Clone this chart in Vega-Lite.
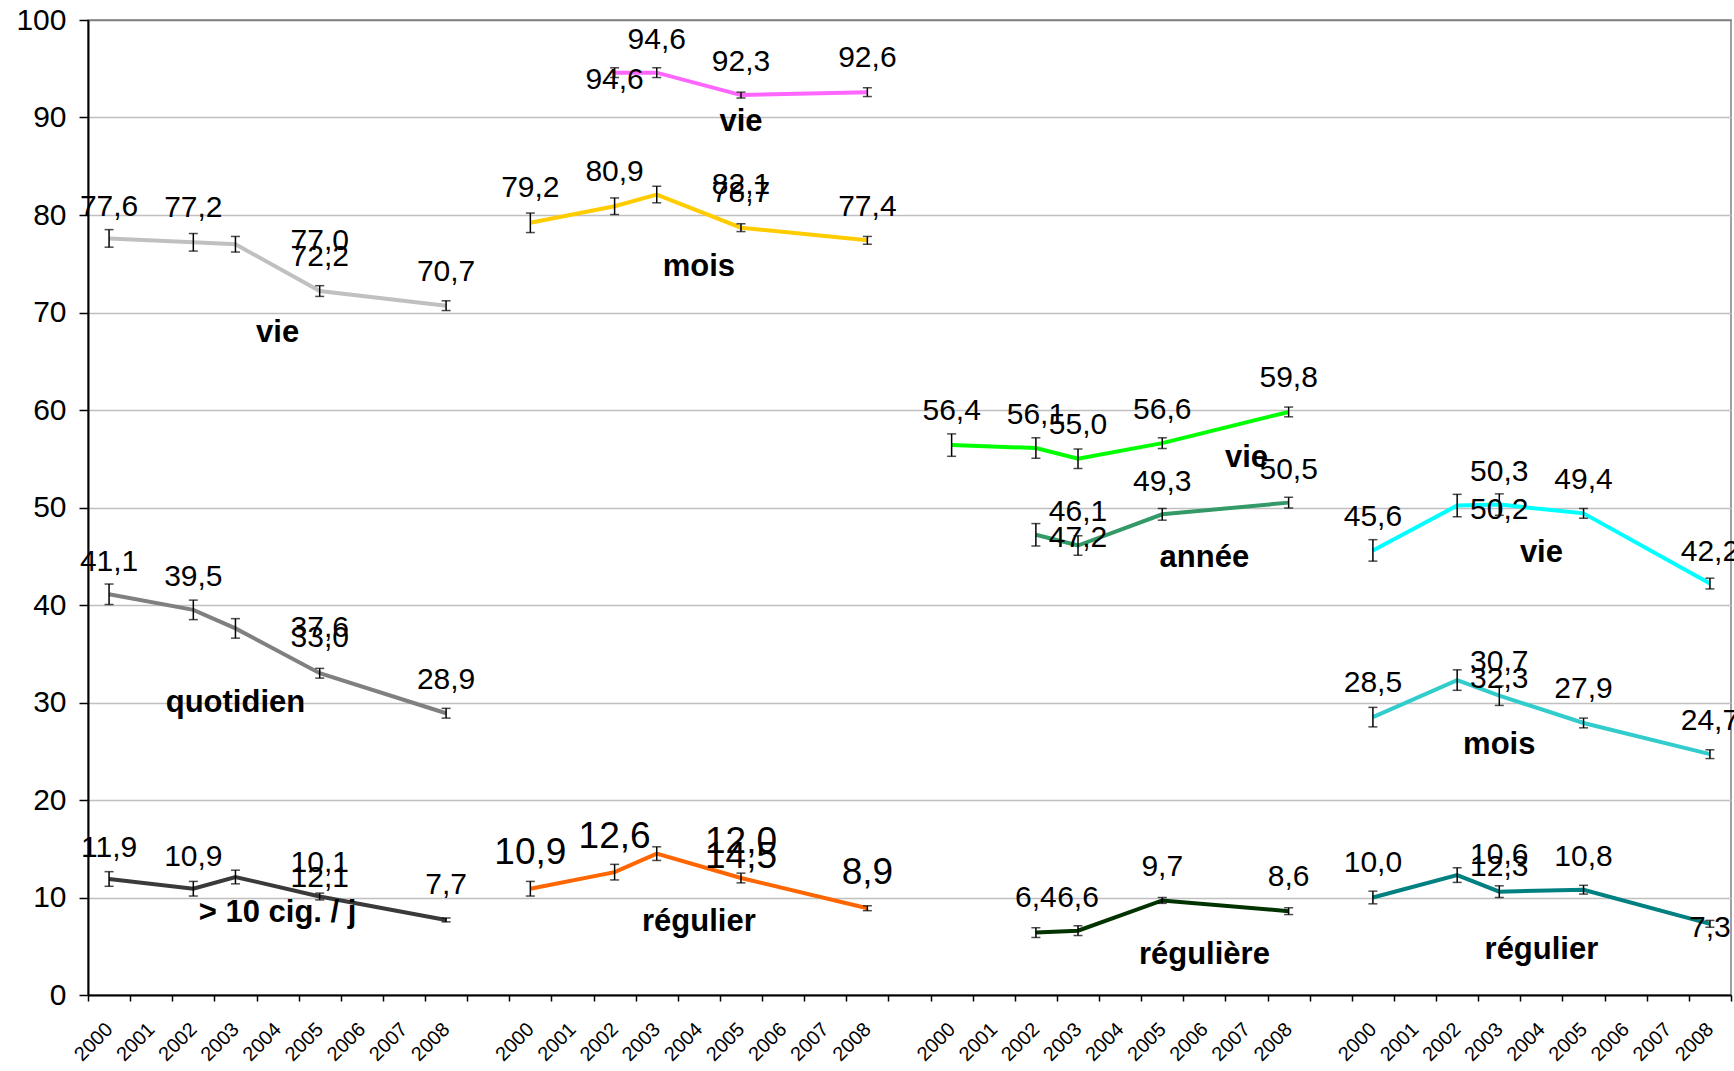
{
  "$schema": "https://vega.github.io/schema/vega-lite/v6.json",
  "width": 1643,
  "height": 975,
  "autosize": {"type": "none"},
  "padding": {"left": 88, "top": 20, "right": 3, "bottom": 76},
  "config": {
    "font": "Liberation Sans",
    "view": {"stroke": "#808080", "strokeWidth": 1.5}
  },
  "datasets": {
    "pts": [
      {"s": "A1", "c": "A2000", "v": 77.6, "e": 0.9},
      {"s": "A1", "c": "A2002", "v": 77.2, "e": 0.9},
      {"s": "A1", "c": "A2003", "v": 77.0, "e": 0.8},
      {"s": "A1", "c": "A2005", "v": 72.2, "e": 0.55},
      {"s": "A1", "c": "A2008", "v": 70.7, "e": 0.5},
      {"s": "A2", "c": "A2000", "v": 41.1, "e": 1.05},
      {"s": "A2", "c": "A2002", "v": 39.5, "e": 1.0},
      {"s": "A2", "c": "A2003", "v": 37.6, "e": 1.0},
      {"s": "A2", "c": "A2005", "v": 33.0, "e": 0.5},
      {"s": "A2", "c": "A2008", "v": 28.9, "e": 0.5},
      {"s": "A3", "c": "A2000", "v": 11.9, "e": 0.75},
      {"s": "A3", "c": "A2002", "v": 10.9, "e": 0.75},
      {"s": "A3", "c": "A2003", "v": 12.1, "e": 0.7},
      {"s": "A3", "c": "A2005", "v": 10.1, "e": 0.35},
      {"s": "A3", "c": "A2008", "v": 7.7, "e": 0.2},
      {"s": "B1", "c": "B2002", "v": 94.6, "e": 0.5},
      {"s": "B1", "c": "B2003", "v": 94.6, "e": 0.5},
      {"s": "B1", "c": "B2005", "v": 92.3, "e": 0.3},
      {"s": "B1", "c": "B2008", "v": 92.6, "e": 0.45},
      {"s": "B2", "c": "B2000", "v": 79.2, "e": 1.0},
      {"s": "B2", "c": "B2002", "v": 80.9, "e": 0.85},
      {"s": "B2", "c": "B2003", "v": 82.1, "e": 0.85},
      {"s": "B2", "c": "B2005", "v": 78.7, "e": 0.4},
      {"s": "B2", "c": "B2008", "v": 77.4, "e": 0.4},
      {"s": "B3", "c": "B2000", "v": 10.9, "e": 0.75},
      {"s": "B3", "c": "B2002", "v": 12.6, "e": 0.8},
      {"s": "B3", "c": "B2003", "v": 14.5, "e": 0.7},
      {"s": "B3", "c": "B2005", "v": 12.0, "e": 0.5},
      {"s": "B3", "c": "B2008", "v": 8.9, "e": 0.25},
      {"s": "C1", "c": "C2000", "v": 56.4, "e": 1.15},
      {"s": "C1", "c": "C2002", "v": 56.1, "e": 1.05},
      {"s": "C1", "c": "C2003", "v": 55.0, "e": 1.0},
      {"s": "C1", "c": "C2005", "v": 56.6, "e": 0.55},
      {"s": "C1", "c": "C2008", "v": 59.8, "e": 0.5},
      {"s": "C2", "c": "C2002", "v": 47.2, "e": 1.15},
      {"s": "C2", "c": "C2003", "v": 46.1, "e": 1.0},
      {"s": "C2", "c": "C2005", "v": 49.3, "e": 0.6},
      {"s": "C2", "c": "C2008", "v": 50.5, "e": 0.55},
      {"s": "C3", "c": "C2002", "v": 6.4, "e": 0.5},
      {"s": "C3", "c": "C2003", "v": 6.6, "e": 0.5},
      {"s": "C3", "c": "C2005", "v": 9.7, "e": 0.3},
      {"s": "C3", "c": "C2008", "v": 8.6, "e": 0.35},
      {"s": "D1", "c": "D2000", "v": 45.6, "e": 1.1},
      {"s": "D1", "c": "D2002", "v": 50.2, "e": 1.15},
      {"s": "D1", "c": "D2003", "v": 50.3, "e": 1.1},
      {"s": "D1", "c": "D2005", "v": 49.4, "e": 0.5},
      {"s": "D1", "c": "D2008", "v": 42.2, "e": 0.55},
      {"s": "D2", "c": "D2000", "v": 28.5, "e": 1.0},
      {"s": "D2", "c": "D2002", "v": 32.3, "e": 1.05},
      {"s": "D2", "c": "D2003", "v": 30.7, "e": 1.0},
      {"s": "D2", "c": "D2005", "v": 27.9, "e": 0.5},
      {"s": "D2", "c": "D2008", "v": 24.7, "e": 0.45},
      {"s": "D3", "c": "D2000", "v": 10.0, "e": 0.65},
      {"s": "D3", "c": "D2002", "v": 12.3, "e": 0.75},
      {"s": "D3", "c": "D2003", "v": 10.6, "e": 0.6},
      {"s": "D3", "c": "D2005", "v": 10.8, "e": 0.45},
      {"s": "D3", "c": "D2008", "v": 7.3, "e": 0.35}
    ],
    "lbl": [
      {"s": "A1", "c": "A2000", "v": 80.8, "t": "77,6"},
      {"s": "A1", "c": "A2002", "v": 80.7, "t": "77,2"},
      {"s": "A1", "c": "A2005", "v": 77.3, "t": "77,0"},
      {"s": "A1", "c": "A2005", "v": 75.7, "t": "72,2"},
      {"s": "A1", "c": "A2008", "v": 74.2, "t": "70,7"},
      {"s": "A2", "c": "A2000", "v": 44.4, "t": "41,1"},
      {"s": "A2", "c": "A2002", "v": 42.9, "t": "39,5"},
      {"s": "A2", "c": "A2005", "v": 37.6, "t": "37,6"},
      {"s": "A2", "c": "A2005", "v": 36.6, "t": "33,0"},
      {"s": "A2", "c": "A2008", "v": 32.3, "t": "28,9"},
      {"s": "A3", "c": "A2000", "v": 15.1, "t": "11,9"},
      {"s": "A3", "c": "A2002", "v": 14.2, "t": "10,9"},
      {"s": "A3", "c": "A2005", "v": 13.5, "t": "10,1"},
      {"s": "A3", "c": "A2005", "v": 12.0, "t": "12,1"},
      {"s": "A3", "c": "A2008", "v": 11.3, "t": "7,7"},
      {"s": "B1", "c": "B2003", "v": 97.9, "t": "94,6"},
      {"s": "B1", "c": "B2002", "v": 93.8, "t": "94,6"},
      {"s": "B1", "c": "B2005", "v": 95.7, "t": "92,3"},
      {"s": "B1", "c": "B2008", "v": 96.1, "t": "92,6"},
      {"s": "B2", "c": "B2000", "v": 82.8, "t": "79,2"},
      {"s": "B2", "c": "B2002", "v": 84.4, "t": "80,9"},
      {"s": "B2", "c": "B2005", "v": 83.1, "t": "82,1"},
      {"s": "B2", "c": "B2005", "v": 82.3, "t": "78,7"},
      {"s": "B2", "c": "B2008", "v": 80.8, "t": "77,4"},
      {"s": "B3", "c": "B2000", "v": 14.6, "t": "10,9"},
      {"s": "B3", "c": "B2002", "v": 16.2, "t": "12,6"},
      {"s": "B3", "c": "B2005", "v": 15.7, "t": "12,0"},
      {"s": "B3", "c": "B2005", "v": 14.2, "t": "14,5"},
      {"s": "B3", "c": "B2008", "v": 12.5, "t": "8,9"},
      {"s": "C1", "c": "C2000", "v": 59.9, "t": "56,4"},
      {"s": "C1", "c": "C2002", "v": 59.5, "t": "56,1"},
      {"s": "C1", "c": "C2003", "v": 58.5, "t": "55,0"},
      {"s": "C1", "c": "C2005", "v": 60.0, "t": "56,6"},
      {"s": "C1", "c": "C2008", "v": 63.3, "t": "59,8"},
      {"s": "C2", "c": "C2003", "v": 49.5, "t": "46,1"},
      {"s": "C2", "c": "C2003", "v": 46.9, "t": "47,2"},
      {"s": "C2", "c": "C2005", "v": 52.6, "t": "49,3"},
      {"s": "C2", "c": "C2008", "v": 53.8, "t": "50,5"},
      {"s": "C3", "c": "C2002", "v": 9.9, "t": "6,4"},
      {"s": "C3", "c": "C2003", "v": 9.9, "t": "6,6"},
      {"s": "C3", "c": "C2005", "v": 13.1, "t": "9,7"},
      {"s": "C3", "c": "C2008", "v": 12.1, "t": "8,6"},
      {"s": "D1", "c": "D2000", "v": 49.0, "t": "45,6"},
      {"s": "D1", "c": "D2003", "v": 53.6, "t": "50,3"},
      {"s": "D1", "c": "D2003", "v": 49.7, "t": "50,2"},
      {"s": "D1", "c": "D2005", "v": 52.8, "t": "49,4"},
      {"s": "D1", "c": "D2008", "v": 45.4, "t": "42,2"},
      {"s": "D2", "c": "D2000", "v": 32.0, "t": "28,5"},
      {"s": "D2", "c": "D2003", "v": 34.2, "t": "30,7"},
      {"s": "D2", "c": "D2003", "v": 32.4, "t": "32,3"},
      {"s": "D2", "c": "D2005", "v": 31.4, "t": "27,9"},
      {"s": "D2", "c": "D2008", "v": 28.1, "t": "24,7"},
      {"s": "D3", "c": "D2000", "v": 13.5, "t": "10,0"},
      {"s": "D3", "c": "D2003", "v": 14.4, "t": "10,6"},
      {"s": "D3", "c": "D2003", "v": 13.1, "t": "12,3"},
      {"s": "D3", "c": "D2005", "v": 14.2, "t": "10,8"},
      {"s": "D3", "c": "D2008", "v": 6.9, "t": "7,3"}
    ],
    "names": [
      {"c": "A2004", "v": 67.9, "t": "vie"},
      {"c": "A2003", "v": 29.9, "t": "quotidien"},
      {"c": "A2004", "v": 8.4, "t": "> 10 cig. / j"},
      {"c": "B2005", "v": 89.5, "t": "vie"},
      {"c": "B2004", "v": 74.7, "t": "mois"},
      {"c": "B2004", "v": 7.5, "t": "régulier"},
      {"c": "C2007", "v": 55.1, "t": "vie"},
      {"c": "C2006", "v": 44.8, "t": "année"},
      {"c": "C2006", "v": 4.1, "t": "régulière"},
      {"c": "D2004", "v": 45.3, "t": "vie"},
      {"c": "D2003", "v": 25.6, "t": "mois"},
      {"c": "D2004", "v": 4.6, "t": "régulier"}
    ]
  },
  "layer": [
    {
      "data": {"name": "pts"},
      "mark": {"type": "line", "strokeWidth": 4},
      "encoding": {
        "x": {
          "field": "c",
          "type": "nominal",
          "title": null,
          "scale": {
            "type": "band",
            "paddingInner": 0,
            "paddingOuter": 0,
            "domain": ["A2000","A2001","A2002","A2003","A2004","A2005","A2006","A2007","A2008","gA",
                       "B2000","B2001","B2002","B2003","B2004","B2005","B2006","B2007","B2008","gB",
                       "C2000","C2001","C2002","C2003","C2004","C2005","C2006","C2007","C2008","gC",
                       "D2000","D2001","D2002","D2003","D2004","D2005","D2006","D2007","D2008"]
          },
          "axis": {
            "title": null,
            "tickBand": "extent",
            "grid": false,
            "domainColor": "black",
            "domainWidth": 2,
            "tickColor": "black",
            "tickWidth": 1.5,
            "tickSize": 6,
            "labelAngle": -45,
            "labelAlign": "right",
            "labelBaseline": "middle",
            "labelFontSize": 20,
            "labelColor": "black",
            "labelPadding": 25,
            "labelOverlap": false,
            "labelExpr": "length(datum.label) == 5 ? substring(datum.label, 1, 5) : ''"
          }
        },
        "y": {
          "field": "v",
          "type": "quantitative",
          "title": null,
          "scale": {"domain": [0, 100], "nice": false},
          "axis": {
            "title": null,
            "values": [0, 10, 20, 30, 40, 50, 60, 70, 80, 90, 100],
            "grid": true,
            "gridColor": {"condition": {"test": "datum.value === 100", "value": "#808080"}, "value": "#c0c0c0"},
            "gridWidth": 1.5,
            "domainColor": "black",
            "domainWidth": 2,
            "tickColor": "black",
            "tickWidth": 1.5,
            "tickSize": 9,
            "labelFontSize": 30,
            "labelColor": "black",
            "labelPadding": 13
          }
        },
        "color": {
          "field": "s",
          "type": "nominal",
          "legend": null,
          "scale": {
            "domain": ["A1","A2","A3","B1","B2","B3","C1","C2","C3","D1","D2","D3"],
            "range": ["#c0c0c0","#808080","#3a3a3a","#ff66ff","#ffcc00","#ff6600","#00ff00","#339966","#003300","#00ffff","#33cccc","#008080"]
          }
        }
      }
    },
    {
      "data": {"name": "pts"},
      "mark": {"type": "errorbar", "color": "black", "thickness": 1.5, "ticks": {"size": 9, "color": "black", "strokeWidth": 1.5}},
      "encoding": {
        "x": {"field": "c", "type": "nominal", "title": null},
        "y": {"field": "v", "type": "quantitative", "title": null},
        "yError": {"field": "e"}
      }
    },
    {
      "data": {"name": "lbl"},
      "mark": {"type": "text", "baseline": "middle", "align": "center", "color": "black"},
      "encoding": {
        "x": {"field": "c", "type": "nominal", "title": null},
        "y": {"field": "v", "type": "quantitative", "title": null},
        "text": {"field": "t"},
        "size": {"condition": {"test": "datum.s === 'B3'", "value": 37}, "value": 30}
      }
    },
    {
      "data": {"name": "names"},
      "mark": {"type": "text", "baseline": "middle", "align": "center", "color": "black", "fontWeight": "bold", "fontSize": 31},
      "encoding": {
        "x": {"field": "c", "type": "nominal", "title": null},
        "y": {"field": "v", "type": "quantitative", "title": null},
        "text": {"field": "t"}
      }
    }
  ]
}
